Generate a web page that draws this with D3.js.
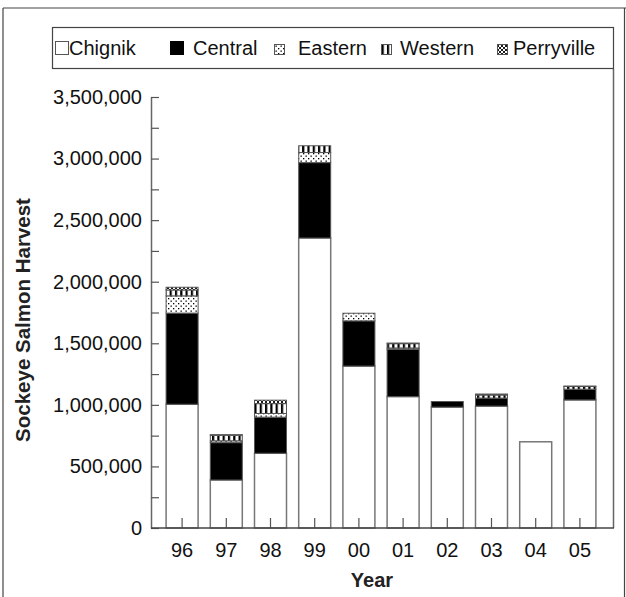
<!DOCTYPE html>
<html><head><meta charset="utf-8">
<script src="https://cdn.jsdelivr.net/npm/d3@7"></script>
<style>body{margin:0;background:#fff}svg{display:block;font-family:"Liberation Sans",Arial,sans-serif}</style>
</head><body><svg id="c" width="626" height="597"></svg>
<script>
const years = ["96","97","98","99","00","01","02","03","04","05"];
const chignik    = [1005000, 390000, 607000, 2355000, 1315000, 1067000, 982000, 990000, 700000, 1040000];
const central    = [740000, 303000, 293000, 612000, 367000, 385000, 45000, 65000, 0, 87000];
const eastern    = [140000, 15000, 30000, 82000, 62000, 10000, 0, 0, 0, 0];
const western    = [48000, 45000, 80000, 55000, 0, 35000, 0, 25000, 0, 22000];
const perryville = [22000, 5000, 28000, 0, 0, 5000, 0, 8000, 0, 4000];
const seriesNames = ["Chignik","Central","Eastern","Western","Perryville"];
const yTicks = [0,500000,1000000,1500000,2000000,2500000,3000000,3500000];
const yMinorTicks = [250000,750000,1250000,1750000,2250000,2750000,3250000];

const svg = d3.select("#c");
const defs = svg.append("defs");
// Eastern: stipple
const pE = defs.append("pattern").attr("id","pEast").attr("patternUnits","userSpaceOnUse").attr("width",5).attr("height",5);
pE.append("rect").attr("width",5).attr("height",5).attr("fill","#fff");
pE.append("rect").attr("x",0.5).attr("y",0.5).attr("width",1.3).attr("height",1.3).attr("fill","#000");
pE.append("rect").attr("x",3).attr("y",3).attr("width",1.3).attr("height",1.3).attr("fill","#000");
// Western: vertical stripes
const pW = defs.append("pattern").attr("id","pWest").attr("patternUnits","userSpaceOnUse").attr("width",5.3).attr("height",6);
pW.append("rect").attr("width",5.3).attr("height",6).attr("fill","#fff");
pW.append("rect").attr("width",2.2).attr("height",6).attr("fill","#000");
// Perryville: crosshatch
const pP = defs.append("pattern").attr("id","pPerry").attr("patternUnits","userSpaceOnUse").attr("width",4).attr("height",4);
pP.append("rect").attr("width",4).attr("height",4).attr("fill","#fff");
pP.append("path").attr("d","M0,0L4,4M4,0L0,4").attr("stroke","#000").attr("stroke-width",0.9);

const fills = {Chignik:"#fff", Central:"#000", Eastern:"url(#pEast)", Western:"url(#pWest)", Perryville:"url(#pPerry)"};

const x = d3.scaleBand().domain(years).range([160,602]).paddingInner(0.276).paddingOuter(0.138);
const y = d3.scaleLinear().domain([0,3500000]).range([528,97]);

const rows = years.map((yr,i)=>({year:yr, Chignik:chignik[i], Central:central[i], Eastern:eastern[i], Western:western[i], Perryville:perryville[i]}));
const stacked = d3.stack().keys(seriesNames)(rows);

// frame
svg.append("line").attr("x1",3).attr("x2",3).attr("y1",8).attr("y2",597).attr("stroke","#444").attr("stroke-width",1.2);
svg.append("line").attr("x1",3).attr("x2",626).attr("y1",8).attr("y2",8).attr("stroke","#444").attr("stroke-width",1.2);
svg.append("line").attr("x1",624.5).attr("x2",624.5).attr("y1",8).attr("y2",597).attr("stroke","#444").attr("stroke-width",1.2);
svg.append("line").attr("x1",613.5).attr("x2",613.5).attr("y1",69).attr("y2",528).attr("stroke","#666").attr("stroke-width",1.5);

// bars
const g = svg.append("g");
stacked.forEach(s=>{
  g.append("g").selectAll("rect").data(s.filter(d=>d[1]-d[0]>0)).join("rect")
    .attr("x",d=>x(d.data.year)).attr("width",x.bandwidth())
    .attr("y",d=>y(d[1])).attr("height",d=>y(d[0])-y(d[1]))
    .attr("fill",fills[s.key])
    .attr("stroke", s.key==="Chignik" ? "#777" : "#555")
    .attr("stroke-width", s.key==="Chignik" ? 1.5 : 1);
});

// y axis
const ya = svg.append("g").attr("transform","translate(151,0)")
  .call(d3.axisLeft(y).tickValues(yTicks).tickSize(-8).tickSizeOuter(0).tickPadding(9).tickFormat(d3.format(",")));
ya.select(".domain").attr("stroke","#666").attr("stroke-width",1.5);
ya.selectAll(".tick line").attr("stroke","#555").attr("stroke-width",1.2);
ya.selectAll("text").attr("font-size",20).attr("fill","#111").attr("font-family","Liberation Sans, Arial, sans-serif");
const ym = svg.append("g").attr("transform","translate(151,0)")
  .call(d3.axisLeft(y).tickValues(yMinorTicks).tickSize(-8).tickFormat(""));
ym.select(".domain").remove();
ym.selectAll(".tick line").attr("stroke","#555").attr("stroke-width",1.2);

// x axis
const xa = svg.append("g").attr("transform","translate(0,528)")
  .call(d3.axisBottom(x).tickSize(-10).tickPadding(15));
xa.select(".domain").remove();
xa.selectAll(".tick line").attr("stroke","#555").attr("stroke-width",1.2);
xa.selectAll("text").attr("font-size",20).attr("fill","#111").attr("font-family","Liberation Sans, Arial, sans-serif");
svg.append("line").attr("x1",151).attr("x2",614).attr("y1",528).attr("y2",528).attr("stroke","#444").attr("stroke-width",1.5);

// titles
svg.append("text").attr("x",372).attr("y",587).attr("text-anchor","middle").attr("font-weight","bold").attr("font-size",20).attr("fill","#222").text("Year");
svg.append("text").attr("transform","translate(30,320) rotate(-90)").attr("text-anchor","middle").attr("font-weight","bold").attr("font-size",20.5).attr("fill","#222").text("Sockeye Salmon Harvest");

// legend
svg.append("rect").attr("x",52.5).attr("y",27.5).attr("width",561).attr("height",41).attr("fill","#fff").attr("stroke","#444").attr("stroke-width",1.2);
const swX = [55,170,274,381,497];
const swS = [13,13,10,10,10];
const txX = [69,193,298,400,513];
const lg = svg.append("g");
seriesNames.forEach((k,i)=>{
  const s = swS[i];
  lg.append("rect").attr("x",swX[i]+0.5).attr("y",54-s+0.5).attr("width",s).attr("height",s)
    .attr("fill",fills[k]).attr("stroke", k==="Central" ? "#000" : "#555").attr("stroke-width",1);
  lg.append("text").attr("x",txX[i]).attr("y",55).attr("font-size",20).attr("fill","#111").text(k);
});
</script></body></html>
